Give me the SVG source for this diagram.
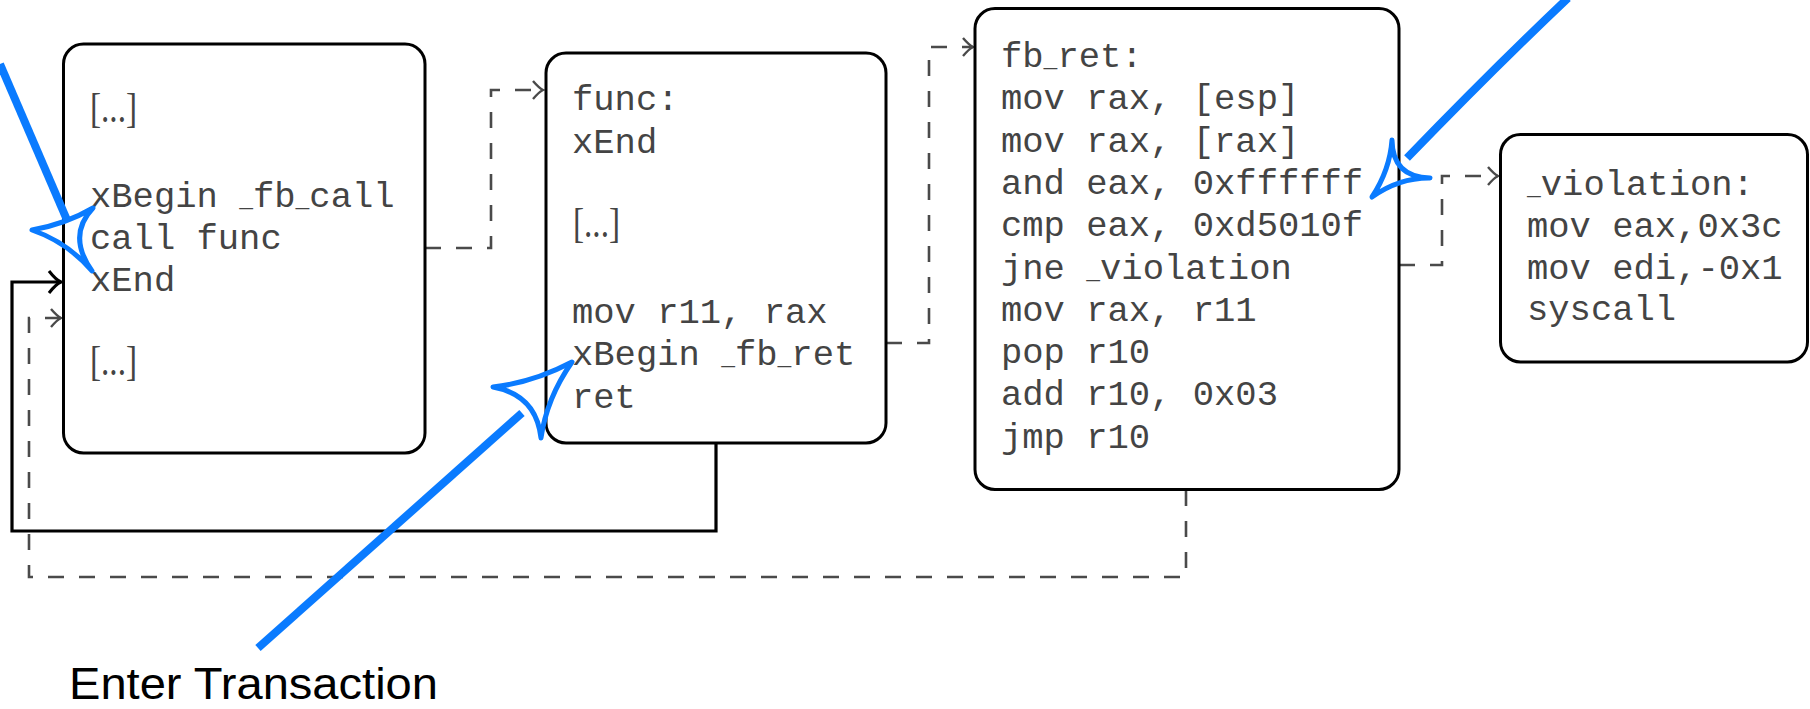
<svg xmlns="http://www.w3.org/2000/svg" width="1810" height="709" viewBox="0 0 1810 709">
  <defs>
    <style>
      .box { fill: #fff; stroke: #000; stroke-width: 3; }
      .code { font-family: "Liberation Mono", "Courier New", monospace; font-size: 35.5px; fill: #444; }
      .u { font-size: 23px; }
      .dots { font-family: "Liberation Serif", "Times New Roman", serif; font-size: 42px; fill: #444; }
      .solid { fill: none; stroke: #000; stroke-width: 3.2; }
      .dashed { fill: none; stroke: #4a4a4a; stroke-width: 2.6; stroke-dasharray: 16 15; }
      .note { fill: none; stroke: #0A7BFF; stroke-width: 8; stroke-linecap: butt; }
      .notehead { fill: none; stroke: #0A7BFF; stroke-width: 5; stroke-linejoin: round; }
      .label { font-family: "Liberation Sans", Arial, sans-serif; font-size: 44px; fill: #000; }
    </style>
    <marker id="toSolid" markerUnits="userSpaceOnUse" markerWidth="30" markerHeight="30" viewBox="-15 -15 30 30" refX="0" refY="0" orient="auto">
      <path d="M -12 -11 Q -5 -2 0 0 Q -5 2 -12 11" fill="none" stroke="#000" stroke-width="3"/>
    </marker>
    <marker id="toDashed" markerUnits="userSpaceOnUse" markerWidth="30" markerHeight="30" viewBox="-15 -15 30 30" refX="0" refY="0" orient="auto">
      <path d="M -10 -9 Q -4 -2 0 0 Q -4 2 -10 9" fill="none" stroke="#4a4a4a" stroke-width="2.4"/>
    </marker>
  </defs>

  <rect width="1810" height="709" fill="#fff"/>

  <!-- control-flow connectors -->
  <g id="connectors">
    <path class="dashed" d="M425,248 H491 V90 H543" marker-end="url(#toDashed)"/>
    <path class="dashed" d="M886,343 H929 V47 H973" marker-end="url(#toDashed)"/>
    <path class="dashed" d="M1399,265 H1442 V176 H1498" marker-end="url(#toDashed)"/>
    <path class="solid" d="M716,443 V531 H12 V282 H61" marker-end="url(#toSolid)"/>
    <path class="dashed" d="M1186,490 V577 H29 V318 H61" marker-end="url(#toDashed)"/>
  </g>

  <!-- caller block -->
  <g id="caller">
    <rect class="box" x="63.5" y="44" width="361.5" height="409" rx="20"/>
    <text class="dots" x="90" y="122" textLength="47" lengthAdjust="spacingAndGlyphs">[...]</text>
    <text class="code" x="90" y="207">xBegin <tspan class="u">_</tspan>fb<tspan class="u">_</tspan>call</text>
    <text class="code" x="90" y="249">call func</text>
    <text class="code" x="90" y="291">xEnd</text>
    <text class="dots" x="90" y="375" textLength="47" lengthAdjust="spacingAndGlyphs">[...]</text>
  </g>

  <!-- callee block -->
  <g id="func">
    <rect class="box" x="546" y="53" width="340" height="390" rx="20"/>
    <text class="code" x="572" y="110">func:</text>
    <text class="code" x="572" y="152.5">xEnd</text>
    <text class="dots" x="573" y="237" textLength="47" lengthAdjust="spacingAndGlyphs">[...]</text>
    <text class="code" x="572" y="322.5">mov r11, rax</text>
    <text class="code" x="572" y="365">xBegin <tspan class="u">_</tspan>fb<tspan class="u">_</tspan>ret</text>
    <text class="code" x="572" y="407.5">ret</text>
  </g>

  <!-- return check block -->
  <g id="fb_ret">
    <rect class="box" x="975" y="8.5" width="424" height="481" rx="20"/>
    <text class="code" x="1001" y="67">fb<tspan class="u">_</tspan>ret:</text>
    <text class="code" x="1001" y="109.3">mov rax, [esp]</text>
    <text class="code" x="1001" y="151.6">mov rax, [rax]</text>
    <text class="code" x="1001" y="193.9">and eax, 0xffffff</text>
    <text class="code" x="1001" y="236.2">cmp eax, 0xd5010f</text>
    <text class="code" x="1001" y="278.5">jne <tspan class="u">_</tspan>violation</text>
    <text class="code" x="1001" y="320.8">mov rax, r11</text>
    <text class="code" x="1001" y="363.1">pop r10</text>
    <text class="code" x="1001" y="405.4">add r10, 0x03</text>
    <text class="code" x="1001" y="447.7">jmp r10</text>
  </g>

  <!-- violation handler block -->
  <g id="violation">
    <rect class="box" x="1500.5" y="134.5" width="307" height="227.5" rx="20"/>
    <text class="code" x="1527" y="195"><tspan class="u">_</tspan>violation:</text>
    <text class="code" x="1527" y="237">mov eax,0x3c</text>
    <text class="code" x="1527" y="279">mov edi,-0x1</text>
    <text class="code" x="1527" y="320">syscall</text>
  </g>

  <!-- blue pointer annotations -->
  <g id="pointer-call">
    <path class="note" d="M0,64 L67,220"/>
    <path class="notehead" d="M32,230 Q65.4,224.2 93,208 Q66.8,235.5 92,271 Q67.7,242.3 32,230 Z"/>
  </g>
  <g id="pointer-enter">
    <path class="note" d="M258,648 L522,413"/>
    <path class="notehead" d="M572,362 Q533.4,382.4 493,387 Q536.2,394.9 541,438 Q546.7,398.2 572,362 Z"/>
  </g>
  <g id="pointer-check">
    <path class="note" d="M1568,-2 Q1492,70 1407,158"/>
    <path class="notehead" d="M1372,197 Q1389.8,170.1 1392,140 Q1392.4,177.1 1430,178 Q1399.1,177.7 1372,197 Z"/>
  </g>

  <g id="label-enter">
    <text class="label" x="69" y="699" textLength="369" lengthAdjust="spacingAndGlyphs">Enter Transaction</text>
  </g>
</svg>
